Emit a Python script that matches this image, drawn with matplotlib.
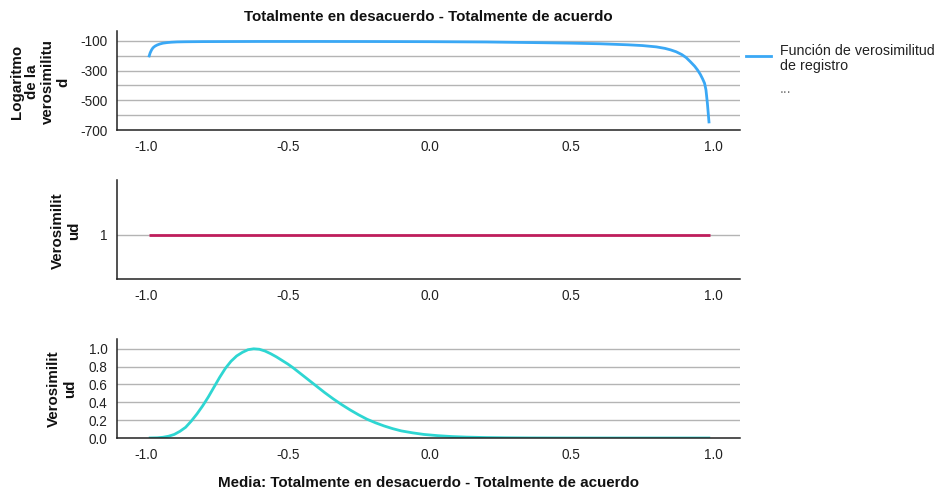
import matplotlib
matplotlib.use("Agg")
import matplotlib.pyplot as plt
from matplotlib.lines import Line2D

plt.rcParams['font.family'] = ['Liberation Sans', 'DejaVu Sans']

# Log-likelihood of the mean
ll_x = [-0.99, -0.985, -0.98, -0.975, -0.968, -0.96, -0.95, -0.94, -0.925, -0.91,
        -0.89, -0.86, -0.83, -0.8, -0.7, -0.6, -0.4, -0.2, 0.0, 0.2, 0.4, 0.5,
        0.6, 0.7, 0.75, 0.8, 0.83, 0.85, 0.87, 0.89, 0.905, 0.92, 0.935, 0.945,
        0.955, 0.963, 0.97, 0.975, 0.98, 0.986]
ll_y = [-210, -180, -160, -146, -135, -127, -120, -115, -111, -108.5,
        -106.5, -105.5, -105, -104.5, -104, -103.5, -103.5, -104, -105, -107, -112, -115,
        -119, -126, -131, -140, -150, -160, -173, -192, -212, -240, -270, -295,
        -325, -355, -385, -430, -520, -655]

# Likelihood (flat)
lk_x = [-0.99, 0.99]
lk_y = [1, 1]

# Normalised likelihood
nl_x = [-0.99, -0.96, -0.94, -0.92, -0.9, -0.88, -0.86, -0.84, -0.82, -0.8, -0.78,
        -0.76, -0.74, -0.72, -0.7, -0.68, -0.66, -0.64, -0.62, -0.6, -0.58, -0.56,
        -0.54, -0.52, -0.5, -0.48, -0.46, -0.44, -0.42, -0.4, -0.37, -0.34, -0.31,
        -0.28, -0.25, -0.22, -0.19, -0.16, -0.13, -0.1, -0.06, -0.02, 0.03, 0.08,
        0.13, 0.2, 0.27, 0.35, 0.45, 0.6, 0.8, 0.99]
nl_y = [0.0, 0.002, 0.008, 0.02, 0.04, 0.075, 0.12, 0.19, 0.27, 0.36, 0.46,
        0.57, 0.68, 0.78, 0.86, 0.92, 0.96, 0.99, 1.0, 0.995, 0.975, 0.945,
        0.91, 0.87, 0.83, 0.785, 0.735, 0.685, 0.635, 0.585, 0.51, 0.44, 0.375,
        0.315, 0.26, 0.21, 0.17, 0.135, 0.105, 0.08, 0.058, 0.04, 0.026, 0.016,
        0.01, 0.005, 0.0025, 0.001, 0.0003, 0.0, 0.0, 0.0]

x_ticks = [-1.0, -0.5, 0.0, 0.5, 1.0]
x_ticklabels = ["-1.0", "-0.5", "0.0", "0.5", "1.0"]

title = "Totalmente en desacuerdo - Totalmente de acuerdo"
xlabel = "Media: Totalmente en desacuerdo - Totalmente de acuerdo"
legend_label = "Función de verosimilitud\nde registro"

W, H = 937, 493
fig = plt.figure(figsize=(W / 100, H / 100), dpi=100)

def ax_rect(left, top, right, bottom):
    return [left / W, 1 - bottom / H, (right - left) / W, (bottom - top) / H]

grid_c = '#b4b4b4'
fs = 9.8

def style(ax, yticks, yticklabels, ylim, grid_vals):
    ax.set_xlim(-1.102, 1.095)
    ax.set_ylim(*ylim)
    for s in ['top', 'right']:
        ax.spines[s].set_visible(False)
    for s in ['left', 'bottom']:
        ax.spines[s].set_color('#222222')
        ax.spines[s].set_linewidth(1.1)
    for g in grid_vals:
        ax.axhline(g, color=grid_c, lw=1.0, zorder=0)
    ax.set_xticks(x_ticks)
    ax.set_xticklabels(x_ticklabels)
    ax.set_yticks(yticks)
    ax.set_yticklabels(yticklabels)
    ax.tick_params(axis='both', length=0, labelsize=fs, colors='#222222')
    ax.tick_params(axis='x', pad=7)
    ax.tick_params(axis='y', pad=7)

# Top panel
ax1 = fig.add_axes(ax_rect(117, 31, 740, 130))
style(ax1, [-100, -300, -500, -700], ["-100", "-300", "-500", "-700"],
      (-700, -33), [-100, -200, -300, -400, -500, -600])
ax1.plot(ll_x, ll_y, color='#3aa8f5', lw=2, solid_capstyle='butt')

# Middle panel
ax2 = fig.add_axes(ax_rect(117, 180, 740, 279))
style(ax2, [1], ["1"], (0, 2.25), [1])
ax2.plot(lk_x, lk_y, color='#bf1e5c', lw=2, solid_capstyle='butt')

# Bottom panel
ax3 = fig.add_axes(ax_rect(117, 339, 740, 438))
style(ax3, [0, 0.2, 0.4, 0.6, 0.8, 1.0], ["0.0", "0.2", "0.4", "0.6", "0.8", "1.0"],
      (0, 1.11), [0.2, 0.4, 0.6, 0.8, 1.0])
ax3.plot(nl_x, nl_y, color='#2ed6d2', lw=2, solid_capstyle='butt')

# Titles and axis labels
fig.text(428.5 / W, 1 - 17 / H, title, ha='center', va='center',
         fontsize=10.9, fontweight='bold', color='#111111')
fig.text(428.5 / W, 1 - 483 / H, xlabel, ha='center', va='center',
         fontsize=10.9, fontweight='bold', color='#111111')

ylab_kw = dict(rotation=90, ha='center', va='center', multialignment='center',
               fontsize=10.9, fontweight='bold', color='#111111', linespacing=1.15)
fig.text(40 / W, 1 - 82 / H, "Logaritmo\nde la\nverosimilitu\nd", **ylab_kw)
fig.text(66 / W, 1 - 231 / H, "Verosimilit\nud", **ylab_kw)
fig.text(62 / W, 1 - 389 / H, "Verosimilit\nud", **ylab_kw)

# Legend
fig.add_artist(Line2D([746 / W, 771 / W], [1 - 56 / H, 1 - 56 / H],
                      color='#3aa8f5', lw=2, transform=fig.transFigure))
fig.text(780 / W, 1 - 58.5 / H, legend_label, ha='left', va='center',
         fontsize=10.3, color='#222222', linespacing=1.05)
fig.text(780 / W, 1 - 89 / H, "...", ha='left', va='center',
         fontsize=10.3, color='#777777')

fig.savefig('out.png', dpi=100)
